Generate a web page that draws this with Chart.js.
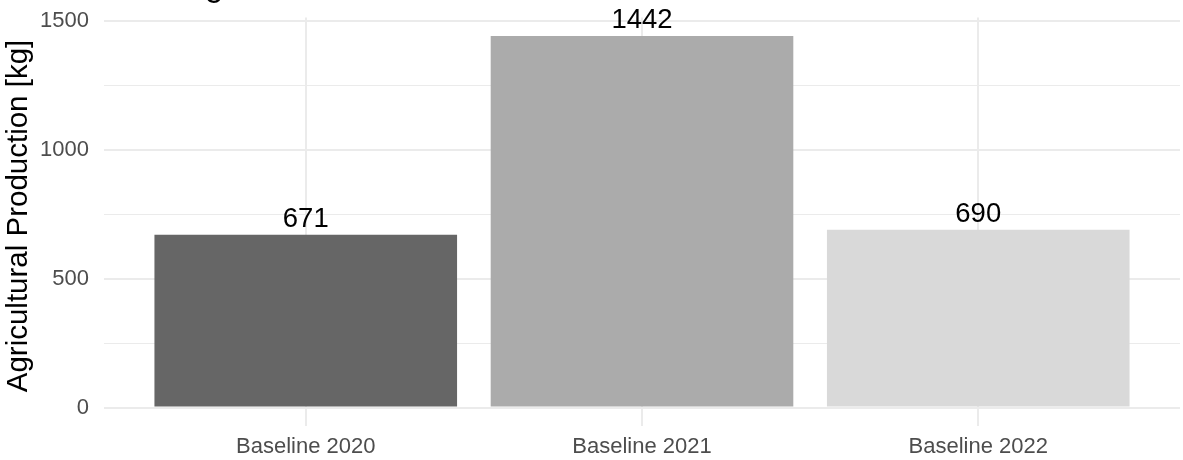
<!DOCTYPE html>
<html>
<head>
<meta charset="utf-8">
<script src="https://cdn.jsdelivr.net/npm/chart.js@4/dist/chart.umd.min.js"></script>
<style>
  html, body { margin: 0; padding: 0; background: #ffffff; }
  #wrap { width: 1183px; height: 460px; position: relative; }
</style>
</head>
<body>
<div id="wrap"><canvas id="chart" width="1183" height="460"></canvas></div>
<script>
// Categories, values and fills
const categories = ['Baseline 2020', 'Baseline 2021', 'Baseline 2022'];
const production = [671, 1442, 690];
const barColors = ['#666666', '#ABABAB', '#D9D9D9'];
const yTicks = [0, 250, 500, 750, 1000, 1250, 1500];
const yLabelTicks = [0, 500, 1000, 1500];

const chartTitle = 'Total Agricultural Production';
const yTitle = 'Agricultural Production [kg]';

const FONT = '"Liberation Sans", Arial, Helvetica, sans-serif';

// 5% padding of the value range above and below, like a default continuous scale
const yMaxVal = Math.max(...production);
const yPad = yMaxVal * 0.05;

const points = categories.map((c, i) => ({ x: i + 1, y: production[i] }));

const textPlugin = {
  id: 'textPlugin',
  afterDatasetsDraw(chart) {
    const ctx = chart.ctx;
    const meta = chart.getDatasetMeta(0);
    ctx.save();
    // value labels above bars
    ctx.fillStyle = '#000000';
    ctx.font = '27.5px ' + FONT;
    ctx.textAlign = 'center';
    ctx.textBaseline = 'alphabetic';
    meta.data.forEach((bar, i) => {
      ctx.fillText(String(production[i]), bar.x, bar.y - 8);
    });
    // y axis title
    ctx.save();
    ctx.translate(19, 216);
    ctx.rotate(-Math.PI / 2);
    ctx.font = '29.5px ' + FONT;
    ctx.textAlign = 'center';
    ctx.textBaseline = 'middle';
    ctx.fillText(yTitle, 0, 0);
    ctx.restore();
    // plot title (sits above the top edge)
    ctx.font = '33px ' + FONT;
    ctx.textAlign = 'left';
    ctx.textBaseline = 'alphabetic';
    ctx.fillText(chartTitle, chart.chartArea.left, -4);
    ctx.restore();
  }
};

new Chart(document.getElementById('chart'), {
  type: 'bar',
  data: {
    datasets: [{
      data: points,
      backgroundColor: barColors,
      borderWidth: 0,
      barPercentage: 0.9,
      categoryPercentage: 1.0
    }]
  },
  options: {
    responsive: false,
    animation: false,
    layout: { padding: { left: 0, right: 3, top: 17.4, bottom: 0 } },
    plugins: {
      legend: { display: false },
      tooltip: { enabled: false },
      title: { display: false }
    },
    scales: {
      x: {
        type: 'linear',
        min: 0.4,
        max: 3.6,
        offset: false,
        afterBuildTicks(scale) {
          scale.ticks = categories.map((c, i) => ({ value: i + 1 }));
        },
        afterFit(scale) {
          scale.height = 33.9;
          scale.paddingLeft = 0;
          scale.paddingRight = 0;
        },
        ticks: {
          autoSkip: false,
          maxRotation: 0,
          padding: 8,
          color: '#4D4D4D',
          font: { family: FONT, size: 22 },
          callback: (v) => categories[Math.round(v) - 1] || ''
        },
        grid: {
          offset: false,
          color: '#EBEBEB',
          lineWidth: 2,
          drawTicks: false
        },
        border: { display: false }
      },
      y: {
        type: 'linear',
        min: -yPad,
        max: yMaxVal + yPad,
        afterBuildTicks(scale) {
          scale.ticks = yTicks.map(v => ({ value: v }));
        },
        afterFit(scale) {
          scale.width = 104;
          scale.paddingTop = 0;
          scale.paddingBottom = 0;
        },
        ticks: {
          padding: 15,
          color: '#4D4D4D',
          font: { family: FONT, size: 22 },
          callback: (v) => (yLabelTicks.includes(v) ? String(v) : '')
        },
        grid: {
          color: '#EBEBEB',
          lineWidth: (ctx) => (ctx.tick && yLabelTicks.includes(ctx.tick.value) ? 2 : 1),
          drawTicks: false
        },
        border: { display: false }
      }
    }
  },
  plugins: [textPlugin]
});
</script>
</body>
</html>
